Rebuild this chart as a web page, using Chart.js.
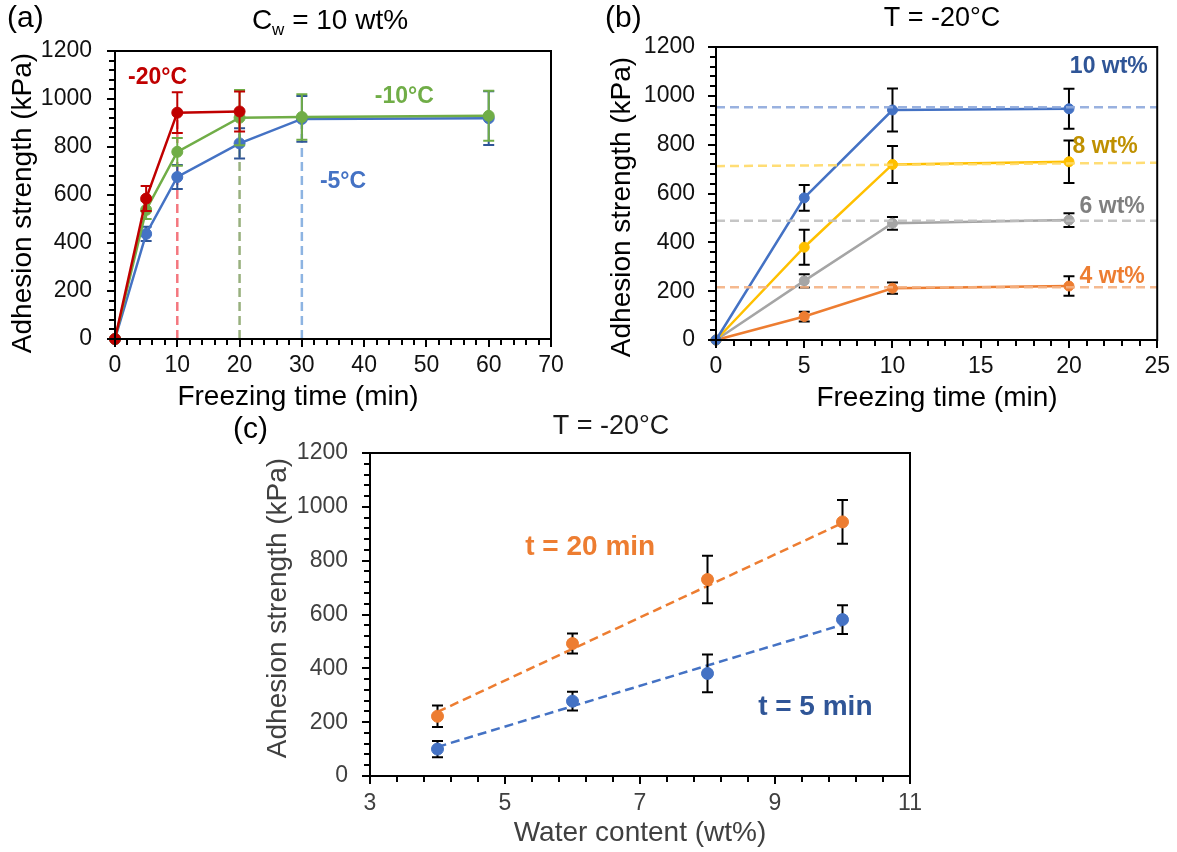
<!DOCTYPE html>
<html>
<head>
<meta charset="utf-8">
<script src="https://cdn.jsdelivr.net/npm/chart.js@4.4.1/dist/chart.umd.min.js"></script>
<style>
  html, body { margin: 0; padding: 0; background: #fff; }
  #wrap { position: relative; width: 1177px; height: 852px; overflow: hidden; }
  canvas { position: absolute; }
</style>
</head>
<body>
<div id="wrap">
  <canvas id="chA" width="580" height="420" style="left:0;top:0"></canvas>
  <canvas id="chB" width="597" height="420" style="left:580px;top:0"></canvas>
  <canvas id="chC" width="720" height="452" style="left:230px;top:400px"></canvas>
</div>
<script>
/* ---- (a) Cw = 10 wt%: adhesion vs freezing time at three temperatures ---- */
const timeA   = [0, 5, 10, 20, 30, 60];
const m20C    = [0, 585, 943, 948];          // -20 °C (measured to 20 min)
const m20Err  = [0, 52, 85, 83];
const m10C    = [0, 538, 780, 922, 925, 930];
const m10Err  = [0, 38, 58, 115, 95, 104];
const m5C     = [0, 438, 675, 815, 917, 920];
const m5Err   = [0, 30, 50, 63, 95, 112];
const plateauTime = [10, 20, 30];            // dashed markers: time to plateau
const plateauTop  = [940, 920, 915];

/* ---- (b) T = -20 °C: adhesion vs freezing time at four water contents ---- */
const timeB  = [0, 5, 10, 20];
const w10    = [0, 582, 942, 947];
const w10Err = [0, 53, 88, 82];
const w8     = [0, 380, 719, 730];
const w8Err  = [0, 72, 76, 87];
const w6     = [0, 242, 478, 491];
const w6Err  = [0, 27, 26, 28];
const w4     = [0, 96, 212, 221];
const w4Err  = [0, 20, 23, 40];
const refX   = [0, 25];                      // dashed plateau levels
const ref10  = [953, 953];
const ref8   = [712, 726];
const ref6   = [488, 488];
const ref4   = [216, 216];

/* ---- (c) T = -20 °C: adhesion vs water content ---- */
const water  = [4, 6, 8, 10];
const t20    = [222, 492, 730, 944];
const t20Err = [40, 37, 88, 81];
const t5     = [100, 278, 381, 581];
const t5Err  = [30, 35, 70, 53];
const fitX   = [4, 10];                      // linear trend lines
const fit20  = [238, 940];
const fit5   = [108, 562];

const FONT = 'Arial, "Liberation Sans", Helvetica, sans-serif';
const BLUE = '#4472C4', GREEN = '#70AD47', RED = '#C00000';
const YELLOW = '#FFC000', GRAY = '#A5A5A5', ORANGE = '#ED7D31', NAVY = '#2F5597';

function pts(xs, ys) { return ys.map((y, i) => ({ x: xs[i], y })); }

// error bars drawn just before each dataset so markers sit on top
const errorBars = {
  id: 'errorBars',
  beforeDatasetDraw(chart, args) {
    const ds = chart.data.datasets[args.index];
    if (!ds.errors) return;
    const ctx = chart.ctx, ys = chart.scales.y, cap = 5.5;
    ctx.save();
    ctx.strokeStyle = ds.errorColor || '#000';
    ctx.lineWidth = 2;
    args.meta.data.forEach((pt, i) => {
      const e = ds.errors[i];
      if (!e) return;
      const v = ds.data[i].y;
      const top = ys.getPixelForValue(v + e), bot = ys.getPixelForValue(v - e);
      ctx.beginPath();
      ctx.moveTo(pt.x, top); ctx.lineTo(pt.x, bot);
      ctx.moveTo(pt.x - cap, top); ctx.lineTo(pt.x + cap, top);
      ctx.moveTo(pt.x - cap, bot); ctx.lineTo(pt.x + cap, bot);
      ctx.stroke();
    });
    ctx.restore();
  }
};

// plot-area box plus Excel-style outside tick marks (major + minor)
function frame(xMin, xMax, xStep, xMajor, yStep, yMajor) {
  return {
    id: 'frame',
    afterDraw(chart) {
      const a = chart.chartArea, ctx = chart.ctx;
      const sx = chart.scales.x, sy = chart.scales.y;
      const near = (v, m, o) => { const k = (v - o) / m; return Math.abs(k - Math.round(k)) < 1e-6; };
      ctx.save();
      ctx.strokeStyle = '#000';
      ctx.fillStyle = '#000';
      ctx.lineWidth = 2;
      ctx.strokeRect(a.left, a.top, a.right - a.left, a.bottom - a.top);
      const nx = Math.round((xMax - xMin) / xStep);
      for (let k = 0; k <= nx; k++) {
        const v = xMin + k * xStep, p = Math.round(sx.getPixelForValue(v));
        const len = near(v, xMajor, xMin) ? 8 : 6;
        ctx.fillRect(p - 1, a.bottom, 2, len);
      }
      const ny = Math.round(1200 / yStep);
      for (let k = 0; k <= ny; k++) {
        const v = k * yStep, p = Math.round(sy.getPixelForValue(v));
        const len = near(v, yMajor, 0) ? 8 : 6;
        ctx.fillRect(a.left - len, p - 1, len, 2);
      }
      ctx.restore();
    }
  };
}

// free text: panel letters, titles, axis titles, series labels
function textLayer(items) {
  return {
    id: 'texts',
    afterDraw(chart) {
      const ctx = chart.ctx;
      items.forEach(it => {
        ctx.save();
        let x = it.px, y = it.py;
        if (it.x !== undefined) {
          x = chart.scales.x.getPixelForValue(it.x);
          y = chart.scales.y.getPixelForValue(it.y);
        }
        ctx.translate(x, y);
        if (it.rotate) ctx.rotate(it.rotate);
        ctx.fillStyle = it.color || '#000';
        ctx.textBaseline = it.baseline || 'middle';
        if (it.parts) {
          // rich text (subscripts), centred on x
          let w = 0;
          it.parts.forEach(p => { ctx.font = (p.size || it.size) + 'px ' + FONT; w += ctx.measureText(p.t).width; });
          let cx = -w / 2;
          ctx.textAlign = 'left';
          it.parts.forEach(p => {
            ctx.font = (p.size || it.size) + 'px ' + FONT;
            ctx.fillText(p.t, cx, p.dy || 0);
            cx += ctx.measureText(p.t).width;
          });
        } else {
          ctx.font = (it.bold ? 'bold ' : '') + it.size + 'px ' + FONT;
          ctx.textAlign = it.align || 'left';
          ctx.fillText(it.text, 0, 0);
        }
        ctx.restore();
      });
    }
  };
}

function axes(o) {
  const tickFont = { family: FONT, size: 23 };
  // tick marks themselves come from the frame plugin; keep the gap for labels
  const grid = { drawOnChartArea: false, drawTicks: true, tickLength: 6, color: 'rgba(0,0,0,0)' };
  const border = { display: true, color: '#000', width: 2 };
  const plain = v => String(v);                // no thousands separator
  return {
    x: {
      type: 'linear', min: o.xMin, max: o.xMax,
      afterFit: s => { s.height = o.xH; },
      ticks: { color: o.tickColor, font: tickFont, autoSkip: false, maxRotation: 0,
               stepSize: o.xMajor, padding: o.xPad, callback: plain },
      grid, border
    },
    y: {
      type: 'linear', min: 0, max: 1200,
      afterFit: s => { s.width = o.yW; },
      ticks: { color: o.tickColor, font: tickFont, autoSkip: false, stepSize: 200,
               padding: o.yPad, callback: plain },
      grid, border
    }
  };
}

function series(xs, ys, errs, color, errColor, order, r) {
  return {
    data: pts(xs, ys), errors: errs, errorColor: errColor,
    borderColor: color, backgroundColor: color, pointBackgroundColor: color, pointBorderColor: color,
    pointRadius: r, pointBorderWidth: 1, borderWidth: 2.5, showLine: true, tension: 0,
    clip: false, order
  };
}

function dashed(xs, ys, color, order) {
  return {
    data: pts(xs, ys), borderColor: color, borderDash: [9, 5], borderWidth: 2.5,
    pointRadius: 0, showLine: true, tension: 0, clip: false, order
  };
}

const common = {
  responsive: false, animation: false, events: [],
  plugins: { legend: { display: false }, tooltip: { enabled: false } }
};

/* ---------------- panel (a) ---------------- */
const plateauColors = ['#F4777F', '#98B07E', '#8DB4E2'];
new Chart(document.getElementById('chA'), {
  type: 'scatter',
  data: {
    datasets: [
      ...plateauTime.map((t, i) => dashed([t, t], [0, plateauTop[i]], plateauColors[i], 10)),
      series(timeA, m5C, m5Err, BLUE, NAVY, 3, 5.5),
      series(timeA, m10C, m10Err, GREEN, GREEN, 2, 5.5),
      series(timeA, m20C, m20Err, RED, RED, 1, 5.5)
    ]
  },
  options: {
    ...common,
    layout: { padding: { left: 0, right: 29, top: 51, bottom: 0 } },
    scales: axes({ xMin: 0, xMax: 70, xMajor: 10, xH: 81, yW: 115, xPad: 7, yPad: 17, tickColor: '#111' })
  },
  plugins: [frame(0, 70, 2, 10, 40, 200), errorBars, textLayer([
    { text: '(a)', px: 7, py: 19, size: 30 },
    { parts: [{ t: 'C' }, { t: 'w', size: 17, dy: 6 }, { t: ' = 10 wt%' }], px: 330, py: 29, size: 28, baseline: 'alphabetic' },
    { text: 'Adhesion strength (kPa)', px: 23, py: 203, size: 28, align: 'center', rotate: -Math.PI / 2 },
    { text: 'Freezing time (min)', px: 298, py: 397, size: 28, align: 'center' },
    { text: '-20°C', x: 2.1, y: 1087, size: 23, bold: true, color: RED },
    { text: '-10°C', x: 41.7, y: 1008, size: 23, bold: true, color: GREEN },
    { text: '-5°C', x: 32.9, y: 654, size: 23, bold: true, color: BLUE }
  ])]
});

/* ---------------- panel (b) ---------------- */
new Chart(document.getElementById('chB'), {
  type: 'scatter',
  data: {
    datasets: [
      series(timeB, w10, w10Err, BLUE, '#000', 1, 5),
      series(timeB, w8, w8Err, YELLOW, '#000', 2, 5),
      series(timeB, w6, w6Err, GRAY, '#000', 3, 5),
      series(timeB, w4, w4Err, ORANGE, '#000', 4, 5),
      dashed(refX, ref10, 'rgba(142,169,219,0.9)', 0),
      dashed(refX, ref8, 'rgba(255,217,102,0.9)', 0),
      dashed(refX, ref6, 'rgba(191,191,191,0.9)', 0),
      dashed(refX, ref4, 'rgba(244,177,131,0.9)', 0)
    ]
  },
  options: {
    ...common,
    layout: { padding: { left: 0, right: 18, top: 47, bottom: 0 } },
    scales: axes({ xMin: 0, xMax: 25, xMajor: 5, xH: 80, yW: 136, xPad: 7, yPad: 15, tickColor: '#111' })
  },
  plugins: [frame(0, 25, 1, 5, 40, 200), errorBars, textLayer([
    { text: '(b)', px: 25, py: 19, size: 30 },
    { text: 'T = -20°C', px: 362, py: 19, size: 27, align: 'center' },
    { text: 'Adhesion strength (kPa)', px: 42, py: 207, size: 28, align: 'center', rotate: -Math.PI / 2 },
    { text: 'Freezing time (min)', px: 357, py: 398, size: 28, align: 'center' },
    { text: '10 wt%', x: 20.05, y: 1118, size: 23, bold: true, color: NAVY },
    { text: '8 wt%', x: 20.2, y: 790, size: 23, bold: true, color: '#BF9000' },
    { text: '6 wt%', x: 20.6, y: 545, size: 23, bold: true, color: '#7F7F7F' },
    { text: '4 wt%', x: 20.6, y: 258, size: 23, bold: true, color: ORANGE }
  ])]
});

/* ---------------- panel (c) ---------------- */
new Chart(document.getElementById('chC'), {
  type: 'scatter',
  data: {
    datasets: [
      dashed(fitX, fit20, ORANGE, 5),
      dashed(fitX, fit5, BLUE, 5),
      { ...series(water, t20, t20Err, ORANGE, '#000', 2, 6), showLine: false },
      { ...series(water, t5, t5Err, BLUE, '#000', 1, 6), showLine: false }
    ]
  },
  options: {
    ...common,
    layout: { padding: { left: 0, right: 40, top: 53, bottom: 0 } },
    scales: axes({ xMin: 3, xMax: 11, xMajor: 2, xH: 76, yW: 140, xPad: 8, yPad: 16, tickColor: '#404040' })
  },
  plugins: [frame(3, 11, 0.4, 2, 40, 200), errorBars, textLayer([
    { text: '(c)', px: 3, py: 30, size: 30 },
    { text: 'T = -20°C', px: 381, py: 27, size: 27, align: 'center', color: '#1a1a1a' },
    { text: 'Adhesion strength (kPa)', px: 48, py: 208, size: 28, align: 'center', rotate: -Math.PI / 2, color: '#404040' },
    { text: 'Water content (wt%)', px: 410, py: 433, size: 28, align: 'center', color: '#404040' },
    { text: 't = 20 min', x: 5.3, y: 848, size: 28, bold: true, color: ORANGE },
    { text: 't = 5 min', x: 8.75, y: 256, size: 28, bold: true, color: NAVY }
  ])]
});
</script>
</body>
</html>
